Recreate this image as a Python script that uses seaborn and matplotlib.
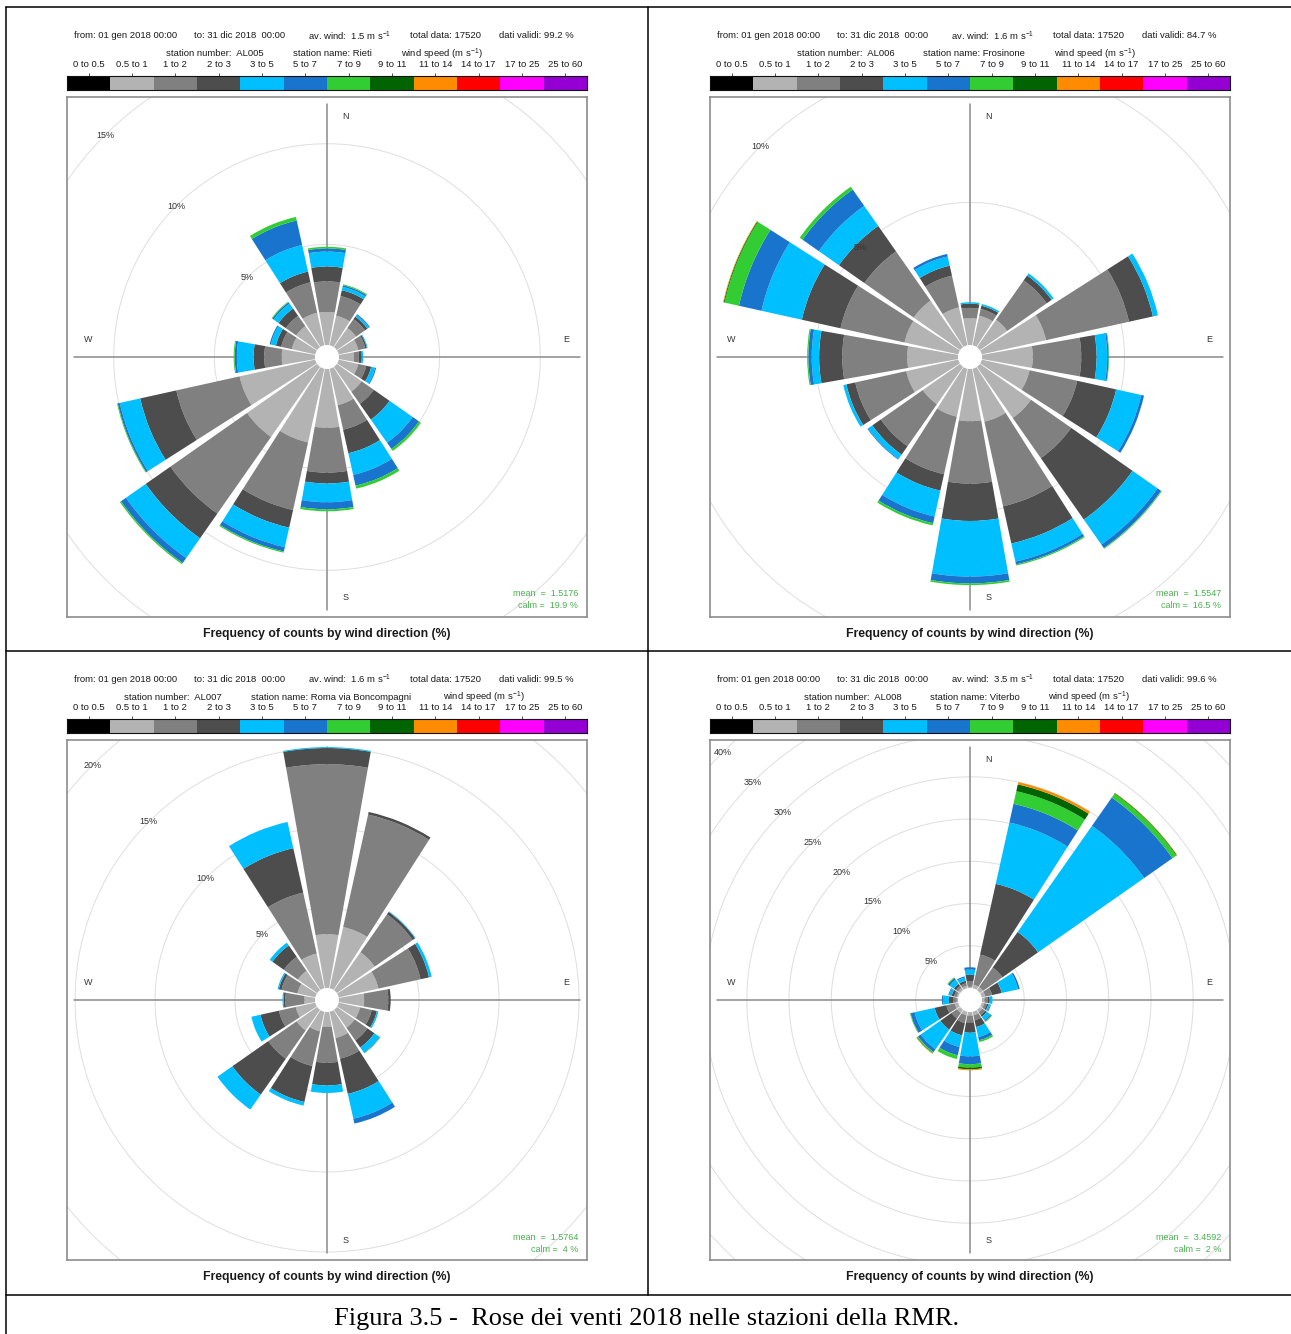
import numpy as np
import matplotlib
matplotlib.use('Agg')
import matplotlib.pyplot as plt
import seaborn as sns
from matplotlib.colors import ListedColormap
from matplotlib.lines import Line2D
from matplotlib.patches import Circle

sns.set_theme(style='white')
plt.rcParams['font.family'] = ['Liberation Sans', 'DejaVu Sans']
plt.rcParams['mathtext.fontset'] = 'custom'
plt.rcParams['mathtext.rm'] = 'Liberation Sans'
plt.rcParams['mathtext.it'] = 'Liberation Sans:italic'
plt.rcParams['mathtext.bf'] = 'Liberation Sans:bold'

# ---------------- data ----------------
directions = ['N', 'NNE', 'NE', 'ENE', 'E', 'ESE', 'SE', 'SSE',
              'S', 'SSW', 'SW', 'WSW', 'W', 'WNW', 'NW', 'NNW']
speed_bins = ['0 to 0.5', '0.5 to 1', '1 to 2', '2 to 3', '3 to 5', '5 to 7',
              '7 to 9', '9 to 11', '11 to 14', '14 to 17', '17 to 25', '25 to 60']
bin_colors = ['#000000', '#B3B3B3', '#808080', '#4D4D4D', '#00BFFF', '#1874CD',
              '#32CD32', '#006400', '#FF8C00', '#FF0000', '#FF00FF', '#9400D3']

# cumulative frequency (%) per direction, bins from "0.5 to 1" upward
rieti_cum = [
    [1.64, 3.16, 3.90, 4.64, 4.80, 4.88],
    [1.50, 2.50, 2.80, 2.97, 3.05, 3.10],
    [1.16, 1.70, 1.85, 1.95, 2.00],
    [0.99, 1.35, 1.43, 1.47],
    [0.74, 0.99, 1.13, 1.20],
    [0.99, 1.40, 1.65, 1.85, 1.90],
    [1.50, 2.24, 3.20, 4.60, 4.98, 5.10],
    [1.85, 3.10, 4.30, 5.40, 5.95, 6.10],
    [2.92, 5.15, 5.69, 6.62, 6.97, 7.07],
    [3.75, 7.19, 8.09, 9.08, 9.30, 9.36],
    [4.25, 8.90, 10.40, 11.60, 11.90, 11.97],
    [3.85, 7.07, 8.91, 9.95, 10.05, 10.09],
    [1.65, 2.52, 3.05, 3.88, 3.99, 4.04],
    [1.19, 1.73, 2.00, 2.26, 2.32],
    [1.27, 1.90, 2.34, 2.64, 2.72, 2.76],
    [1.65, 3.20, 3.75, 5.10, 6.35, 6.53],
]
frosinone_cum = [
    [0.94, 1.30, 1.45, 1.50],
    [1.06, 1.30, 1.42, 1.48],
    [1.17, 2.86, 3.07, 3.16],
    [2.31, 5.29, 6.15, 6.33],
    [1.78, 3.48, 4.02, 4.39, 4.44, 4.46],
    [1.72, 3.43, 4.83, 5.73, 5.83],
    [2.19, 3.91, 6.54, 7.61, 7.76, 7.79],
    [1.90, 4.94, 6.28, 6.93, 7.03, 7.07],
    [1.83, 4.02, 5.33, 7.28, 7.52, 7.58],
    [1.72, 3.79, 4.38, 5.31, 5.55, 5.63],
    [1.60, 3.40, 3.76, 3.94, 3.97],
    [1.87, 3.70, 4.02, 4.13],
    [1.78, 4.06, 4.87, 5.13, 5.25, 5.29],
    [1.93, 4.23, 5.62, 7.07, 7.88, 8.40, 8.43, 8.45],
    [1.99, 4.10, 5.19, 6.05, 6.75, 6.87],
    [1.36, 2.50, 2.86, 3.19, 3.28],
]
roma_cum = [
    [3.36, 13.99, 15.00, 15.06],
    [3.92, 11.12, 11.29],
    [2.89, 5.78, 5.97, 6.01],
    [2.54, 5.24, 5.78, 5.95],
    [1.57, 3.08, 3.23],
    [1.36, 2.11, 2.44, 2.54],
    [1.36, 2.33, 2.87, 3.25, 3.29, 3.32],
    [1.68, 3.00, 5.26, 6.85, 7.16],
    [0.93, 3.17, 4.59, 5.06],
    [1.25, 3.47, 5.78, 6.01],
    [1.57, 3.73, 6.47, 7.61],
    [1.25, 2.33, 3.51, 4.09],
    [0.67, 1.85, 1.96, 2.03],
    [1.14, 2.16, 2.33, 2.41],
    [1.47, 2.54, 3.41, 3.62],
    [2.22, 6.12, 8.97, 10.65],
]
viterbo_cum = [
    [0.15, 0.83, 1.56, 2.17, 2.45],
    [0.43, 4.08, 12.66, 20.10, 22.37, 23.90, 24.72, 25.00],
    [0.45, 3.26, 8.41, 23.75, 27.84, 28.40, 28.48, 28.52],
    [0.43, 1.24, 2.41, 4.40, 4.60],
    [0.31, 0.71, 0.91, 1.24],
    [0.30, 0.60, 0.80, 1.00, 1.10, 1.12],
    [0.35, 0.75, 1.00, 1.50, 1.65, 1.76],
    [0.43, 1.04, 1.85, 3.06, 3.46, 3.67],
    [0.43, 1.24, 2.45, 5.25, 6.18, 6.58, 6.78, 6.90],
    [0.43, 1.36, 2.86, 4.27, 5.28, 5.73],
    [0.45, 1.24, 2.86, 5.69, 6.10, 6.26, 6.30, 6.34],
    [0.43, 1.44, 2.86, 5.29, 5.77, 5.85],
    [0.15, 0.55, 1.08, 1.77, 1.89],
    [0.20, 0.50, 0.80, 1.10, 1.20],
    [0.30, 0.60, 0.90, 1.50, 1.75, 1.85],
    [0.30, 0.60, 0.90, 1.30, 1.44],
]
station_cums = [rieti_cum, frosinone_cum, roma_cum, viterbo_cum]
station_codes = ['AL005', 'AL006', 'AL007', 'AL008']
station_names = ['Rieti', 'Frosinone', 'Roma via Boncompagni', 'Viterbo']
av_wind = ['1.5', '1.6', '1.6', '3.5']
dati_validi = ['99.2', '84.7', '99.5', '99.6']
mean_speed = ['1.5176', '1.5547', '1.5764', '3.4592']
calm_pct = ['19.9', '16.5', '4', '2']
total_data = '17520'

# ---------------- layout ----------------
W, H = 1291, 1334
fig = plt.figure(figsize=(W / 100, H / 100), dpi=100)
fig.patch.set_facecolor('white')


def fx(x):
    return x / W


def fy(y):
    return 1 - y / H


panels = [(67, 97), (710, 97), (67, 740), (710, 740)]
BOX = 520
line1_dx = [7, 127, 241, 343, 432]
line2_dx = [[99, 226, 334], [87, 213, 344], [57, 184, 376], [94, 220, 338]]
TXT = '#1a1a1a'
GREEN = '#4CAF50'
NBANDS = 8

for p, (x0, y0) in enumerate(panels):
    # ---- header text ----
    l1 = ['from: 01 gen 2018 00:00', 'to: 31 dic 2018  00:00',
          'av. wind:  %s m s$^{-1}$' % av_wind[p], 'total data: %s' % total_data,
          'dati validi: %s %%' % dati_validi[p]]
    for dx, s in zip(line1_dx, l1):
        fig.text(fx(x0 + dx), fy(y0 - 61), s, fontsize=6.8, color=TXT, ha='left', va='center')
    l2 = ['station number:  %s' % station_codes[p], 'station name: %s' % station_names[p],
          'wind speed (m s$^{-1}$)']
    for dx, s in zip(line2_dx[p], l2):
        fig.text(fx(x0 + dx), fy(y0 - 43), s, fontsize=6.8, color=TXT, ha='left', va='center')

    # ---- colour key (seaborn heatmap) ----
    cax = fig.add_axes([fx(x0), fy(y0 - 7), BOX / W, 14 / H])
    sns.heatmap(np.arange(12).reshape(1, -1), cmap=ListedColormap(bin_colors),
                vmin=-0.5, vmax=11.5, cbar=False, ax=cax,
                xticklabels=speed_bins, yticklabels=False, linewidths=0)
    cax.xaxis.tick_top()
    cax.set_xticklabels(speed_bins, rotation=0)
    cax.tick_params(axis='x', top=True, bottom=False, labeltop=True, labelbottom=False,
                    length=2.5, width=0.6, pad=2.6, labelsize=6.8, labelcolor=TXT, color='#333333')
    cax.tick_params(axis='y', left=False, labelleft=False)
    for sp in cax.spines.values():
        sp.set_visible(True)
        sp.set_color('#111111')
        sp.set_linewidth(0.8)

    # ---- data ----
    cum = np.array([list(c) + [c[-1]] * (NBANDS - len(c)) for c in station_cums[p]])
    bands = np.diff(np.hstack([np.zeros((len(directions), 1)), cum]), axis=1)
    mx = cum[:, -1].max()
    off = 0.05 * mx
    R = mx + off
    Hh = R * 1.028

    rect = [fx(x0), fy(y0 + BOX), BOX / W, BOX / H]
    # base axes: frame, rings, axis lines, compass letters
    axb = fig.add_axes(rect)
    axb.set_xlim(-Hh, Hh)
    axb.set_ylim(-Hh, Hh)
    axb.set_xticks([])
    axb.set_yticks([])
    axb.set_facecolor('white')
    for sp in axb.spines.values():
        sp.set_visible(True)
        sp.set_color('#8c8c8c')
        sp.set_linewidth(1.2)
    t = np.linspace(0, 2 * np.pi, 500)
    ring_vals = []
    k = 1
    while off + 5 * k < Hh * 1.415:
        r = off + 5 * k
        axb.plot(r * np.sin(t), r * np.cos(t), color='#dedede', lw=0.7, zorder=1)
        ring_vals.append((5 * k, r))
        k += 1
    axb.plot([-R, R], [0, 0], color='#8a8a8a', lw=1.1, zorder=2)
    axb.plot([0, 0], [-R, R], color='#8a8a8a', lw=1.1, zorder=2)
    axb.add_patch(Circle((0, 0), off, color='white', zorder=3))
    for s, (ux, uy) in zip(['N', 'E', 'S', 'W'],
                           [(0.535, 0.962), (0.960, 0.533), (0.535, 0.038), (0.040, 0.533)]):
        axb.text(ux, uy, s, transform=axb.transAxes, fontsize=6.5, color='#333333',
                 ha='center', va='center', zorder=4)

    # polar axes: the stacked sectors
    axp = fig.add_axes(rect, projection='polar')
    axp.set_theta_zero_location('N')
    axp.set_theta_direction(-1)
    axp.set_ylim(0, Hh)
    axp.axis('off')
    theta = np.deg2rad(np.arange(len(directions)) * 22.5)
    width = np.deg2rad(20.0)
    for j in range(NBANDS):
        axp.bar(theta, bands[:, j], width=width, bottom=off + cum[:, j] - bands[:, j],
                color=bin_colors[j + 1], linewidth=0, align='center')

    # labels drawn on top
    for val, r in ring_vals:
        xx, yy = -r / np.sqrt(2), r / np.sqrt(2)
        if abs(xx) < Hh * 0.97:
            axp.text(xx, yy, '%d%%' % val, transform=axb.transData, fontsize=6.5,
                     color='#333333', ha='center', va='center', zorder=10)
    axp.text(1 - 9 / BOX, 23 / BOX, 'mean  =  %s' % mean_speed[p], transform=axb.transAxes,
             fontsize=6.5, color=GREEN, ha='right', va='center')
    axp.text(1 - 9 / BOX, 11 / BOX, 'calm =  %s %%' % calm_pct[p], transform=axb.transAxes,
             fontsize=6.5, color=GREEN, ha='right', va='center')

    fig.text(fx(x0 + BOX / 2), fy(y0 + BOX + 17), 'Frequency of counts by wind direction (%)',
             fontsize=8.8, fontweight='bold', color=TXT, ha='center', va='center')

# ---------------- table lines and caption ----------------
lw = 1.1
for (xa, ya, xb, yb) in [(6, 7, 6, 1334), (6, 7, 1291, 7), (648, 7, 648, 1295),
                         (6, 651, 1291, 651), (6, 1295, 1291, 1295)]:
    fig.add_artist(Line2D([fx(xa), fx(xb)], [fy(ya), fy(yb)], color='black', lw=lw,
                          transform=fig.transFigure))

fig.text(fx(647), fy(1319), 'Figura 3.5 -  Rose dei venti 2018 nelle stazioni della RMR.',
         family=['Liberation Serif', 'DejaVu Serif'], fontsize=19, color='black',
         ha='center', va='center')

fig.savefig('out.png', dpi=100, facecolor='white')
